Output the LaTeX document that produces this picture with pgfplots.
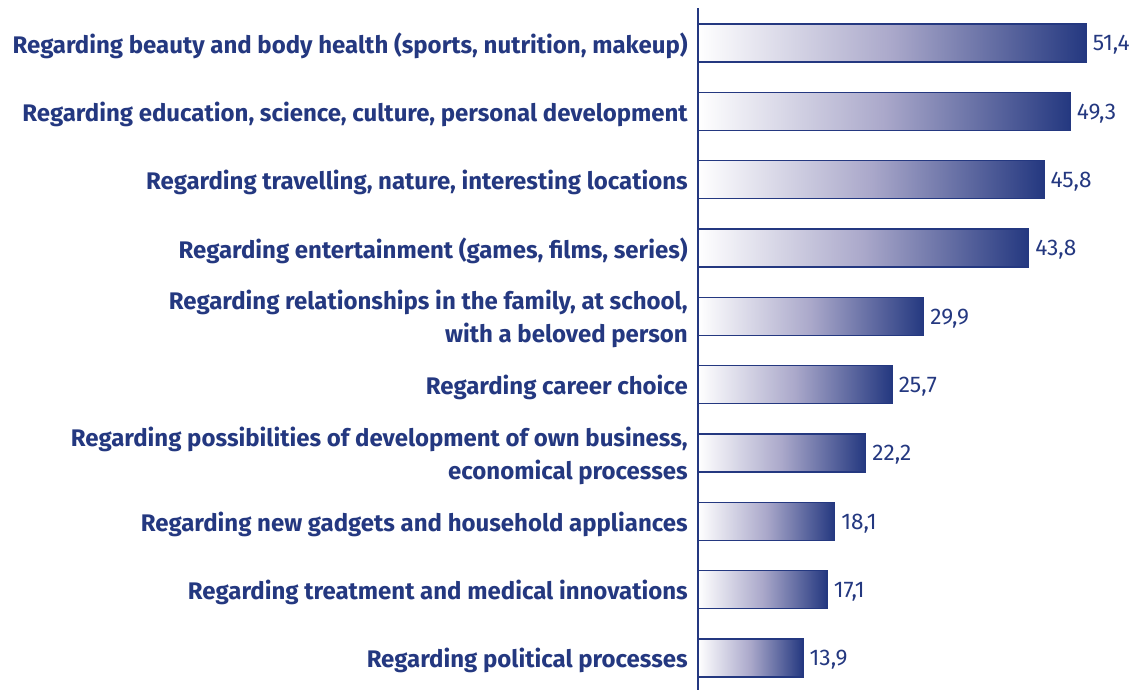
\documentclass[border=0pt]{standalone}
\usepackage{fontspec}
\setmainfont{Fira Sans}
\usepackage{pgfplots}
\pgfplotsset{compat=1.18}
\definecolor{navy}{RGB}{36,56,128}
\definecolor{midc}{RGB}{170,168,202}
\begin{document}
\begin{tikzpicture}[x=1pt,y=1pt]
\path[use as bounding box] (0,0) rectangle (850.5,517.5);
\begin{axis}[
  at={(523.5pt,0pt)}, anchor=south west,
  scale only axis, width=317.1pt, height=511.5pt,
  xmin=0, xmax=56, ymin=-0.512, ymax=9.469, y dir=reverse,
  axis x line=none, axis y line*=left,
  y axis line style={navy, line width=1.6pt},
  clip=false,
  major tick length=0pt,
  ytick={0,...,9},
  yticklabels={
    {Regarding beauty and body health (sports, nutrition, makeup)},
    {Regarding education, science, culture, personal development},
    {Regarding travelling, nature, interesting locations},
    {Regarding entertainment (games, films, series)},
    {Regarding relationships in the family, at school,\\[2pt]with a beloved person},
    {Regarding career choice},
    {Regarding possibilities of development of own business,\\[2pt]economical processes},
    {Regarding new gadgets and household appliances},
    {Regarding treatment and medical innovations},
    {Regarding political processes}},
  yticklabel style={align=right, inner sep=0pt, xshift=-7.5pt, yshift=-2pt, text=navy,
    font=\fontsize{18}{23}\selectfont\bfseries},
  point meta=x,
  nodes near coords={\pgfmathprintnumber[assume math mode=true,use comma,fixed,fixed zerofill,precision=1]{\pgfplotspointmeta}},
  every node near coord/.append style={anchor=west, inner sep=0pt, xshift=4.5pt, yshift=-1.5pt,
    text=navy, font=\fontsize{17}{18}\selectfont},
  gbar/.style={xbar, bar width=28.5pt, bar shift=0pt, draw=navy, line width=1.1pt,
    left color=white, right color=navy, middle color=midc},
]
\addplot[gbar] coordinates {(51.4,0)};
\addplot[gbar] coordinates {(49.3,1)};
\addplot[gbar] coordinates {(45.8,2)};
\addplot[gbar] coordinates {(43.8,3)};
\addplot[gbar] coordinates {(29.9,4)};
\addplot[gbar] coordinates {(25.7,5)};
\addplot[gbar] coordinates {(22.2,6)};
\addplot[gbar] coordinates {(18.1,7)};
\addplot[gbar] coordinates {(17.1,8)};
\addplot[gbar] coordinates {(13.9,9)};
\end{axis}
\end{tikzpicture}
\end{document}
